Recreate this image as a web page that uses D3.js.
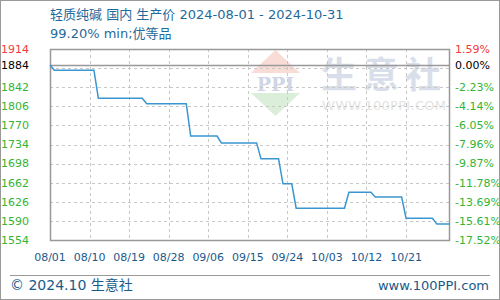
<!DOCTYPE html>
<html>
<head>
<meta charset="utf-8">
<script src="https://cdn.jsdelivr.net/npm/d3@7"></script>
<style>
  body { margin: 0; background: #fff; }
  svg { display: block; }
</style>
</head>
<body>
<div id="chart"></div>
<script>
// price steps (date, yuan/t)
let dates = ["2024-08-01","2024-08-02","2024-08-11","2024-08-12","2024-08-22","2024-08-23",
             "2024-09-01","2024-09-02","2024-09-08","2024-09-09","2024-09-17","2024-09-18",
             "2024-09-22","2024-09-23","2024-09-25","2024-09-26","2024-10-07","2024-10-08",
             "2024-10-13","2024-10-14","2024-10-20","2024-10-21","2024-10-27","2024-10-28","2024-10-31"];
let prices = [1884,1874,1874,1821,1821,1811,1811,1750,1750,1737,1737,1707,
              1707,1660,1660,1614,1614,1644,1644,1635,1635,1595,1595,1584,1584];
let yTicks = [1554,1590,1626,1662,1698,1734,1770,1806,1842,1878,1914];
let xTickLabels = ["08/01","08/10","08/19","08/28","09/06","09/15","09/24","10/03","10/12","10/21"];
let basePrice = 1884;
let titleText = "轻质纯碱 国内 生产价 2024-08-01 - 2024-10-31";
let subText = "99.20% min;优等品";

let W = 500, H = 300;
let plotL = 50, plotR = 450, plotT = 49, plotB = 240;
let parse = d3.timeParse("%Y-%m-%d");
let data = dates.map(function(d,i) { return {date: parse(d), value: prices[i]}; });

let x = d3.scaleTime().domain([parse("2024-08-01"), parse("2024-10-31")]).range([plotL, plotR]);
let y = d3.scaleLinear().domain([1554, 1914]).range([plotB, plotT]);

let svg = d3.select("#chart").append("svg").attr("width", W).attr("height", H);
let numFont = "'DejaVu Sans', sans-serif";
let cjkFont = "'DejaVu Sans', 'Noto Sans CJK SC', sans-serif";

// outer frame
svg.append("rect").attr("x",0.5).attr("y",0.5).attr("width",W-1).attr("height",H-1)
   .attr("fill","none").attr("stroke","#999");

// title
svg.append("text").attr("x",50).attr("y",19).attr("font-family",cjkFont).attr("font-size",13)
   .attr("fill","#1f6a9c").text(titleText);
svg.append("text").attr("x",50).attr("y",38).attr("font-family",cjkFont).attr("font-size",13)
   .attr("fill","#1f6a9c").text(subText);

// watermark
let wm = svg.append("g");
wm.append("path").attr("d","M251,73 L275.5,50 L300,73 Z").attr("fill","#f9dcd6");
wm.append("path").attr("d","M251,93 L300,93 L275.5,116 Z").attr("fill","#daeeda");
wm.append("text").attr("x",275.5).attr("y",91).attr("text-anchor","middle")
  .attr("font-family","'DejaVu Serif', serif").attr("font-weight","bold").attr("font-size",19)
  .attr("fill","#cfd6e6").text("PPI");
wm.append("text").attr("x",321).attr("y",88).attr("font-family","'Noto Sans CJK SC', sans-serif")
  .attr("font-weight","bold").attr("font-size",36).attr("letter-spacing",6).attr("fill","#d9dfea").text("生意社");
wm.append("text").attr("x",322).attr("y",110).attr("font-family",numFont).attr("font-size",13)
  .attr("fill","#e3e3e3").attr("textLength",124).text("WWW.100PPI.COM");

// gridlines
let grid = svg.append("g");
yTicks.slice(1, -1).forEach(function(t) {
  grid.append("line").attr("x1",plotL).attr("x2",plotR)
      .attr("y1",Math.round(y(t))+0.5).attr("y2",Math.round(y(t))+0.5)
      .attr("stroke","#c8c8c8").attr("stroke-dasharray","3,3");
});
xTickLabels.forEach(function(lab,i) {
  if (i === 0) return;
  let xx = Math.round(x(d3.timeDay.offset(parse("2024-08-01"), Math.floor(i*9.1)))) + 0.5;
  grid.append("line").attr("x1",xx).attr("x2",xx).attr("y1",plotT).attr("y2",plotB)
      .attr("stroke","#c8c8c8").attr("stroke-dasharray","3,3");
});

// base line
svg.append("line").attr("x1",plotL).attr("x2",plotR)
   .attr("y1",Math.round(y(basePrice))+0.5).attr("y2",Math.round(y(basePrice))+0.5)
   .attr("stroke","#999").attr("stroke-width",1.5);

// frame of plot
svg.append("rect").attr("x",plotL+0.5).attr("y",plotT+0.5).attr("width",plotR-plotL-1).attr("height",plotB-plotT)
   .attr("fill","none").attr("stroke","#999").attr("stroke-width",1.5);

// price line
let line = d3.line().x(function(d) { return x(d.date); }).y(function(d) { return y(d.value); });
svg.append("path").datum(data).attr("d",line).attr("fill","none")
   .attr("stroke","#3a96d0").attr("stroke-width",1.5);

// y labels, left: price, right: change vs base
let labels = yTicks.map(function(t) { return t === 1878 ? basePrice : t; });
labels.forEach(function(v) {
  let col = v > basePrice ? "#f03c3c" : (v === basePrice ? "#000" : "#34b434");
  svg.append("text").attr("x",1).attr("y",y(v)).attr("dy","0.35em")
     .attr("font-family",numFont).attr("font-size",11).attr("fill",col).text(v);
  let pct = (v - basePrice) / basePrice * 100;
  svg.append("text").attr("x",455).attr("y",y(v)).attr("dy","0.35em")
     .attr("font-family",numFont).attr("font-size",11).attr("fill",col)
     .text(d3.format(".2f")(pct).replace("−","-") + "%");
});

// x labels
xTickLabels.forEach(function(lab,i) {
  let xx = x(d3.timeDay.offset(parse("2024-08-01"), Math.floor(i*9.1)));
  svg.append("text").attr("x",xx).attr("y",257).attr("dy","0.35em").attr("text-anchor","middle")
     .attr("font-family",numFont).attr("font-size",11).attr("fill","#1a5a8a").text(lab);
});

// footer
svg.append("line").attr("x1",10).attr("x2",490).attr("y1",275.5).attr("y2",275.5).attr("stroke","#999");
svg.append("text").attr("x",10).attr("y",290).attr("font-family",cjkFont).attr("font-size",14)
   .attr("fill","#1a5a8a").text("© 2024.10 生意社");
svg.append("text").attr("x",489).attr("y",290).attr("text-anchor","end").attr("font-family",numFont)
   .attr("font-size",13).attr("fill","#1a5a8a").text("www.100PPI.com");
</script>
</body>
</html>
